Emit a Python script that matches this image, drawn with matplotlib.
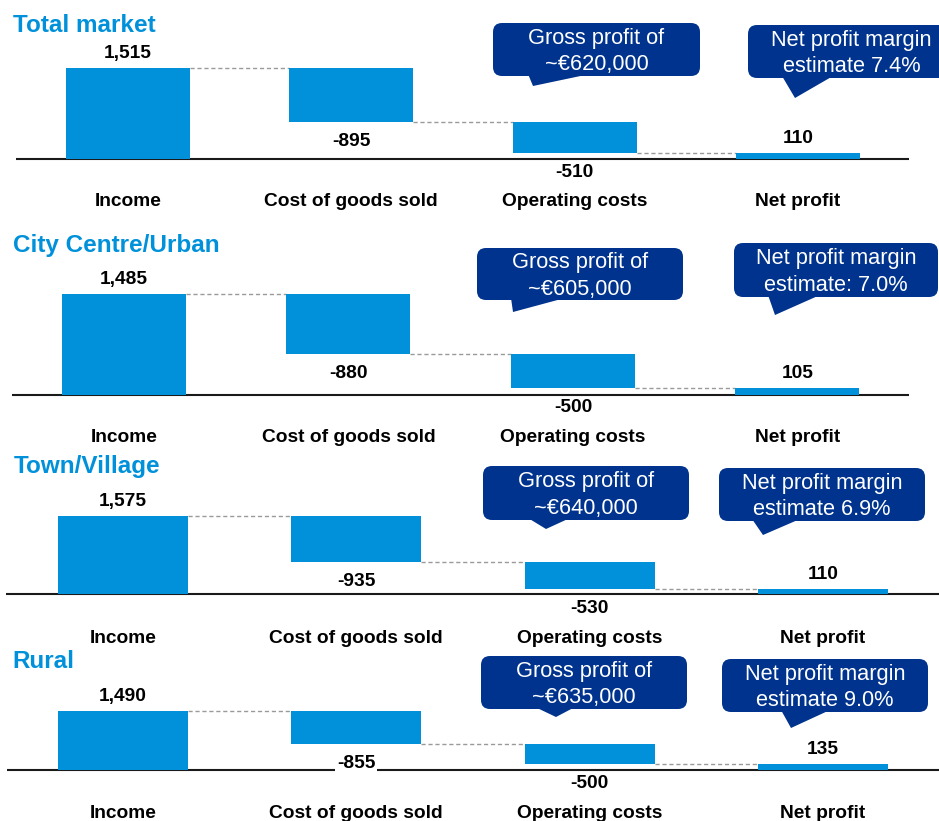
# Waterfall of income to net profit, by location type

import matplotlib
matplotlib.use("Agg")
import matplotlib.pyplot as plt
from matplotlib.patches import FancyBboxPatch, Polygon
from matplotlib.transforms import Affine2D

plt.rcParams['font.family'] = ['Liberation Sans', 'DejaVu Sans']

# data
categories = ["Income", "Cost of goods sold", "Operating costs", "Net profit"]
segments = ["Total market", "City Centre/Urban", "Town/Village", "Rural"]
income = [1515, 1485, 1575, 1490]
cogs = [-895, -880, -935, -855]
opex = [-510, -500, -530, -500]
net = [110, 105, 110, 135]
gross_notes = ["Gross profit of\n~€620,000", "Gross profit of\n~€605,000",
               "Gross profit of\n~€640,000", "Gross profit of\n~€635,000"]
margin_notes = ["Net profit margin\nestimate 7.4%", "Net profit margin\nestimate: 7.0%",
                "Net profit margin\nestimate 6.9%", "Net profit margin\nestimate 9.0%"]

BAR = "#0091DA"
NAVY = "#00338D"
W, H = 939, 821

# layout of each panel, in pixels from the top left
panels = [
    dict(band=(0, 218), base=159.5, k=0.0602, c0=128, step=223.3, width=124,
         line=(16, 909), title=(12.7, 32), gap=47,
         notes=[((493, 23, 700, 76), (528, 533, 86, 590)),
                ((748, 25, 955, 78), (782, 795, 98, 833))]),
    dict(band=(218, 448), base=395, k=0.0678, c0=124, step=224.5, width=124,
         line=(12, 909), title=(12.7, 252), gap=47,
         notes=[((477, 248, 683, 300), (511, 513, 312, 565)),
                ((734, 243, 938, 297), (768, 775, 315, 820))]),
    dict(band=(448, 645), base=594, k=0.0495, c0=123, step=233.3, width=130,
         line=(6, 939), title=(14, 472.5), gap=48.5,
         notes=[((483, 466, 689, 520), (528, 546, 529, 570)),
                ((719, 468, 925, 521), (752, 763, 535, 800))]),
    dict(band=(645, 821), base=769.5, k=0.0395, c0=123, step=233.3, width=130,
         line=(7, 939), title=(12.7, 668), gap=48.5,
         notes=[((481, 656, 687, 709), (535, 556, 717, 575)),
                ((722, 659, 928, 712), (781, 791, 728, 830))]),
]

fig = plt.figure(figsize=(W / 100, H / 100), dpi=100)
pix = Affine2D().scale(1 / W, -1 / H).translate(0, 1) + fig.transFigure


def callout(box, tail, text):
    x0, y0, x1, y1 = box
    lx, tx, ty, rx = tail
    fig.add_artist(FancyBboxPatch((x0, y0), x1 - x0, y1 - y0,
                                  boxstyle="round,pad=0,rounding_size=9",
                                  transform=pix, fc=NAVY, ec="none"))
    fig.add_artist(Polygon([(lx, y1 - 2), (tx, ty), (rx, y1 - 2)],
                           transform=pix, fc=NAVY, ec="none"))
    fig.text((x0 + x1) / 2, (y0 + y1) / 2 + 2, text, transform=pix,
             ha="center", va="center", color="white", fontsize=15.7,
             linespacing=1.35)


for p, lay in enumerate(panels):
    ya, yb = lay["band"]
    ax = fig.add_axes([0, 1 - yb / H, 1, (yb - ya) / H])
    ax.set_axis_off()
    ax.set_xlim((0 - lay["c0"]) / lay["step"], (W - lay["c0"]) / lay["step"])
    ax.set_ylim((lay["base"] - yb) / lay["k"], (lay["base"] - ya) / lay["k"])

    steps = [income[p], cogs[p], opex[p]]
    bottoms, heights = [], []
    level = 0
    for v in steps:
        bottoms.append(min(level, level + v))
        heights.append(abs(v))
        level += v
    bottoms.append(0)
    heights.append(net[p])
    values = steps + [net[p]]

    bw = lay["width"] / lay["step"]
    xs = list(range(len(categories)))
    ax.bar(xs, heights, bottom=bottoms, width=bw, color=BAR, linewidth=0, zorder=2)

    # connectors
    level = 0
    for i in range(3):
        level += values[i]
        ax.plot([i + bw / 2, i + 1 - bw / 2], [level, level], color="#9a9a9a",
                lw=1, ls=(0, (3, 2)), zorder=1)

    # baseline
    lx0, lx1 = lay["line"]
    ax.plot([(lx0 - lay["c0"]) / lay["step"], (lx1 - lay["c0"]) / lay["step"]], [0, 0],
            color="#1a1a1a", lw=1.5, solid_capstyle="butt", zorder=1, clip_on=False)

    # value labels
    for i, v in enumerate(values):
        if v >= 0:
            y, off = bottoms[i] + heights[i], 10
        else:
            y, off = bottoms[i], -24
        ax.annotate(f"{v:,}", (i, y), xytext=(0, off), textcoords="offset pixels",
                    ha="center", va="baseline", fontsize=13.8, fontweight="bold",
                    annotation_clip=False, zorder=3,
                    bbox=dict(fc="white", ec="none", pad=1.2))

    # category labels
    for i, c in enumerate(categories):
        ax.annotate(c, (i, 0), xytext=(0, -lay["gap"]), textcoords="offset pixels",
                    ha="center", va="baseline", fontsize=13.8, fontweight="bold",
                    annotation_clip=False)

    tx, ty = lay["title"]
    fig.text(tx, ty, segments[p], transform=pix, ha="left", va="baseline",
             fontsize=17.5, fontweight="bold", color=BAR)

    callout(*lay["notes"][0], gross_notes[p])
    callout(*lay["notes"][1], margin_notes[p])

fig.savefig("out.png", dpi=100)
